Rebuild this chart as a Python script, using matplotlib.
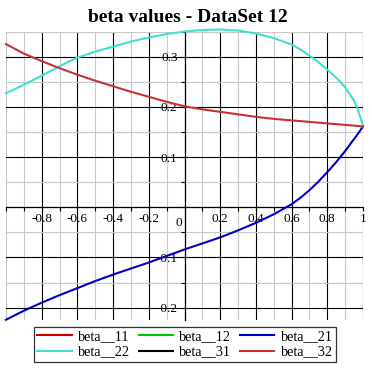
import numpy as np
import matplotlib
matplotlib.use("Agg")
import matplotlib.pyplot as plt
from matplotlib.lines import Line2D

plt.rcParams["font.family"] = ["Liberation Serif", "DejaVu Serif"]

# values
x_red = [-1.0, -0.9, -0.8, -0.7, -0.6, -0.5, -0.4, -0.3, -0.2, -0.1, 0.0,
         0.1, 0.2, 0.3, 0.4, 0.5, 0.6, 0.7, 0.8, 0.9, 1.0]
beta_32 = [0.325, 0.306, 0.291, 0.277, 0.264, 0.252, 0.241, 0.230, 0.220, 0.210, 0.201,
           0.195, 0.190, 0.185, 0.180, 0.176, 0.173, 0.170, 0.167, 0.164, 0.161]

x_cyan = [-1.0, -0.9, -0.8, -0.7, -0.6, -0.5, -0.4, -0.3, -0.2, -0.1, 0.0,
          0.1, 0.2, 0.3, 0.4, 0.5, 0.6, 0.65, 0.7, 0.75, 0.8, 0.85, 0.9, 0.95, 0.975, 1.0]
beta_22 = [0.227, 0.244, 0.262, 0.281, 0.298, 0.310, 0.320, 0.330, 0.338, 0.345, 0.350,
           0.353, 0.354, 0.352, 0.346, 0.337, 0.324, 0.314, 0.302, 0.289, 0.274, 0.258, 0.239,
           0.212, 0.191, 0.161]

x_blue = [-1.0, -0.9, -0.8, -0.7, -0.6, -0.5, -0.4, -0.3, -0.2, -0.1, 0.0,
          0.1, 0.2, 0.3, 0.4, 0.5, 0.6, 0.65, 0.7, 0.75, 0.8, 0.85, 0.9, 0.95, 0.975, 1.0]
beta_21 = [-0.224, -0.206, -0.190, -0.175, -0.161, -0.147, -0.134, -0.122, -0.110, -0.097, -0.084,
           -0.072, -0.060, -0.046, -0.031, -0.014, 0.006, 0.019, 0.034, 0.051, 0.070, 0.090, 0.112,
           0.136, 0.148, 0.161]

# series that appear only in the legend
beta_11 = []
beta_12 = []
beta_31 = []

x_ticks = [-0.8, -0.6, -0.4, -0.2, 0.2, 0.4, 0.6, 0.8, 1.0]
x_labels = ["-0.8", "-0.6", "-0.4", "-0.2", "0.2", "0.4", "0.6", "0.8", "1"]
y_ticks = [-0.2, -0.1, 0.1, 0.2, 0.3]
y_labels = ["-0.2", "-0.1", "0.1", "0.2", "0.3"]

fig = plt.figure(figsize=(3.72, 3.72), dpi=100)
ax = fig.add_axes([6 / 372, 52 / 372, 357 / 372, 288.5 / 372])

ax.set_xlim(-1.0, 1.0)
ax.set_ylim(-0.2245, 0.349)

ax.set_xticks(x_ticks)
ax.set_xticklabels(x_labels)
ax.set_yticks(y_ticks)
ax.set_yticklabels(y_labels)
ax.set_xticks(np.round(np.arange(-1.0, 1.01, 0.1), 2), minor=True)
ax.set_yticks(np.round(np.arange(-0.15, 0.351, 0.05), 3), minor=True)

ax.grid(True, which="minor", color="#c8c8c8", linewidth=0.8, zorder=0)
ax.grid(True, which="major", color="black", linewidth=0.8, zorder=0.5)
ax.set_axisbelow(True)

for side in ("top", "right"):
    ax.spines[side].set_visible(False)
for side in ("left", "bottom"):
    ax.spines[side].set_position(("data", 0))
    ax.spines[side].set_linewidth(0.9)
    ax.spines[side].set_zorder(1)

ax.tick_params(which="both", direction="out", length=3, width=0.8, color="black",
               labelsize=9.5, pad=2)
ax.tick_params(axis="x", pad=1)

ax.annotate("0", xy=(0, 0), xycoords="data", xytext=(-4, -11), textcoords="offset points",
            ha="center", va="center", fontsize=9.5)

ax.plot(x_red[:len(beta_11)], beta_11, color="#c80000", lw=1.5)
ax.plot(x_red[:len(beta_12)], beta_12, color="#00c800", lw=1.5)
ax.plot(x_red[:len(beta_31)], beta_31, color="black", lw=1.5)
ax.plot(x_blue, beta_21, color="#0000c8", lw=1.5, clip_on=False, zorder=3)
ax.plot(x_cyan, beta_22, color="#40e0d0", lw=1.5, clip_on=False, zorder=3)
ax.plot(x_red, beta_32, color="#c83232", lw=1.5, clip_on=False, zorder=3)

fig.text(187.5 / 372, 1 - 18 / 372, "beta values - DataSet 12", ha="center", va="center",
         fontsize=14, fontweight="bold")

handles = [
    Line2D([], [], color="#c80000", lw=1.5),
    Line2D([], [], color="#40e0d0", lw=1.5),
    Line2D([], [], color="#00c800", lw=1.5),
    Line2D([], [], color="black", lw=1.5),
    Line2D([], [], color="#0000c8", lw=1.5),
    Line2D([], [], color="#c83232", lw=1.5),
]
labels = ["beta__11", "beta__22", "beta__12", "beta__31", "beta__21", "beta__32"]
leg = fig.legend(handles, labels, ncol=3, loc="center", bbox_to_anchor=(185 / 372, 1 - 344.5 / 372),
                 fontsize=10.3, frameon=True, fancybox=False, handlelength=2.4, handletextpad=0.45,
                 columnspacing=0.6, labelspacing=0.15, borderpad=0.25, borderaxespad=0)
leg.get_frame().set_edgecolor("black")
leg.get_frame().set_linewidth(0.9)

fig.savefig("out.png", dpi=100)
